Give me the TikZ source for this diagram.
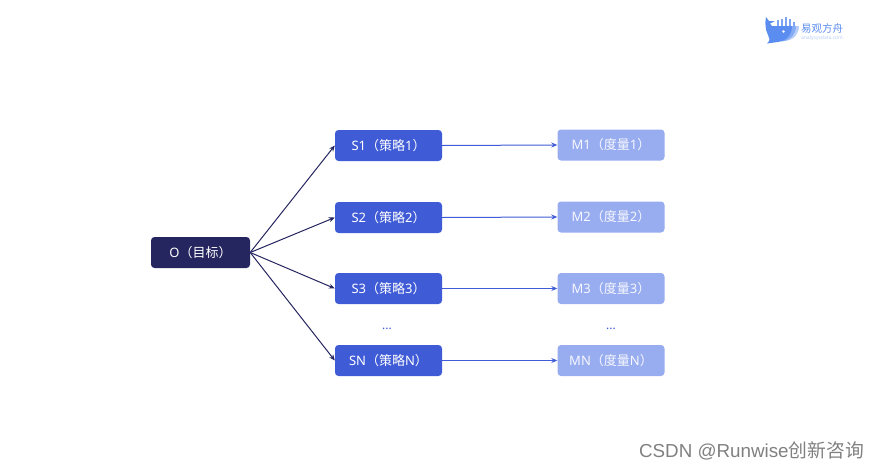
\documentclass[tikz,border=0pt]{standalone}
\usepackage{fontspec}
\usetikzlibrary{arrows.meta}
\setmainfont{Noto Sans}
\newfontfamily\cjk{Noto Sans CJK SC}
\newfontfamily\wmfont{Liberation Sans}
\definecolor{goalcol}{HTML}{25255F}
\definecolor{stratcol}{HTML}{3F5BD6}
\definecolor{metriccol}{HTML}{98ACF0}
\definecolor{logocol}{HTML}{5B8DF0}
\definecolor{logomid}{HTML}{86ABF5}
\definecolor{logolite}{HTML}{B9CFF9}
\begin{document}
\begin{tikzpicture}[x=1pt,y=-1pt]
		\tikzset{
			sbox/.style={
				draw=none, rounded corners=3.5pt, fill=stratcol, text=white,
				minimum width=107pt, minimum height=31pt, inner sep=0pt,
				font=\fontsize{13}{15}\selectfont
			},
			mbox/.style={
				sbox, fill=metriccol, text=white!92!metriccol
			},
			obox/.style={
				sbox, fill=goalcol, minimum width=99pt
			},
			oline/.style={
				draw=goalcol, line width=1pt, -{Stealth[length=6pt,width=5pt]}
			},
			sline/.style={
				draw=stratcol, line width=1pt, -{Stealth[length=6pt,width=5pt]}
			},
			dots/.style={
				text=stratcol, inner sep=0pt, font=\fontsize{12}{14}\selectfont
			}
		}
		\useasboundingbox (0,0) rectangle (878,469);

		\node [obox] (o) at (200.5,252.5) {O{\cjk（目标）}};

		\foreach \i/\y/\v in {1/145.5/145, 2/217.5/217, 3/288.5/288.5, N/360.5/360.5}{
			\node [sbox] (s\i) at (388.5,\y) {\raisebox{1pt}{S\i{\cjk（策略}\i{\cjk）}}};
			\node [mbox] (m\i) at (611,\v) {\raisebox{1pt}{M\i{\cjk（度量}\i{\cjk）}}};
		}

		\node [dots] (sdots) at (387,329) {...};
		\node [dots] (mdots) at (611,329) {...};

		\foreach \i in {1, 2, 3, N}{
			\path (o.east) edge [oline] (s\i.west);
			\path (s\i.east) edge [sline] (m\i.west);
		}

		% logo
		\fill [logolite] (786,26) -- (799,26) .. controls (799,34) and (794,40) .. (785,41) -- cycle;
		\fill [logomid] (783,26) -- (796,26) .. controls (796,34) and (791,40) .. (782,41.5) -- cycle;
		\fill [logocol] (766,17) -- (769,21) -- (775,21) -- (770,23.5) -- (772,26) -- (792,26)
			.. controls (792,35) and (786,41) .. (778,42) -- (767,43.5)
			.. controls (771,40) and (769,38) .. (768,35) .. controls (765,29) and (765,23) .. (766,17);
		\fill [white] (783.5,31.5) circle (1.3pt);
		\foreach \x/\t in {777/20, 781/19, 785/17, 789/19, 793/22}{
			\fill [logocol!80] (\x,\t) rectangle (\x+1.8,26);
		}
		\node [text=logocol, inner sep=0pt, font=\cjk\fontsize{10.5}{12}\selectfont] (logotext) at (822,28.5) {易观方舟};
		\node [text=logolite, inner sep=0pt, font=\fontsize{5}{6}\selectfont] (logourl) at (822,38) {analysysdata.com};

		% watermark
		\node [text=black!50, inner sep=0pt, font=\wmfont\fontsize{18.8}{21}\selectfont] (mark) at (751.5,451) {CSDN @Runwise{\cjk 创新咨询}};
\end{tikzpicture}
\end{document}
